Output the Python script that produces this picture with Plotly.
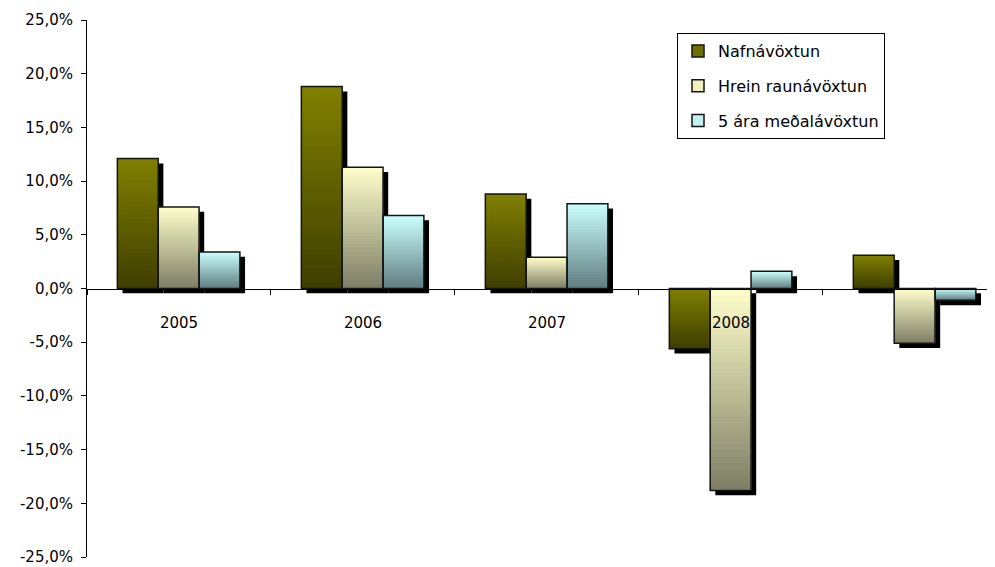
import plotly.graph_objects as go

# ---- data ----
categories = ["2005", "2006", "2007", "2008", "2009"]
tick_labels = ["2005", "2006", "2007", "2008", ""]
series_names = ["Nafnávöxtun", "Hrein raunávöxtun", "5 ára meðalávöxtun"]
nafn = [12.1, 18.8, 8.8, -5.6, 3.1]
hrein = [7.6, 11.3, 2.9, -18.8, -5.1]
medal = [3.4, 6.8, 7.9, 1.6, -1.1]
series_values = [nafn, hrein, medal]
y_tick_values = [25, 20, 15, 10, 5, 0, -5, -10, -15, -20, -25]
y_tick_labels = ["25,0%", "20,0%", "15,0%", "10,0%", "5,0%", "0,0%",
                 "-5,0%", "-10,0%", "-15,0%", "-20,0%", "-25,0%"]

# ---- styles ----
top_colors = [(128, 128, 0), (255, 255, 204), (204, 255, 255)]
bottom_colors = [(62, 62, 0), (125, 125, 100), (95, 125, 128)]
legend_colors = ["#707000", "#f0f0c0", "#c0f0f0"]
bar_w = 0.222
group_start = -0.335
shadow_dx = 0.028
shadow_dy = 0.45
N = 30


def mix(c1, c2, t):
    return "rgb(%d,%d,%d)" % tuple(round(a * t + b * (1 - t)) for a, b in zip(c1, c2))


fig = go.Figure()

# shadows
for i, vals in enumerate(series_values):
    fig.add_trace(go.Bar(
        x=categories, y=vals, base=[-shadow_dy] * len(vals),
        offset=group_start + i * bar_w + shadow_dx, width=bar_w,
        marker=dict(color="black", line=dict(width=0)),
        showlegend=False, hoverinfo="skip"))

# gradient fills (overlapping layers, so no seams)
for i, vals in enumerate(series_values):
    for k in range(N):
        colors, bases, heights = [], [], []
        for v in vals:
            if v >= 0:
                bases.append(0)
                heights.append(v * (N - k) / N)
                t = (N - k - 0.5) / N
            else:
                bases.append(v * k / N)
                heights.append(v - v * k / N)
                t = 1 - (k + 0.5) / N
            colors.append(mix(top_colors[i], bottom_colors[i], t))
        fig.add_trace(go.Bar(
            x=categories, y=heights, base=bases,
            offset=group_start + i * bar_w, width=bar_w,
            marker=dict(color=colors, line=dict(width=0)),
            showlegend=False, hoverinfo="skip"))

# outlines
for i, vals in enumerate(series_values):
    fig.add_trace(go.Bar(
        x=categories, y=vals,
        offset=group_start + i * bar_w, width=bar_w,
        marker=dict(color="rgba(0,0,0,0)", line=dict(width=1.5, color="#151515")),
        name=series_names[i], showlegend=False))

# legend entries
for i, name in enumerate(series_names):
    fig.add_trace(go.Bar(
        x=[categories[0]], y=[None], name=name, legendgroup=name,
        marker=dict(color=legend_colors[i], line=dict(width=1.5, color="#151515")),
        showlegend=True))

# page has an 8px body margin; plot area spans x 87..995, y 20..557 in the window
fig.update_layout(
    width=987, height=559,
    margin=dict(l=79, r=0, t=12, b=10),
    barmode="overlay",
    plot_bgcolor="white", paper_bgcolor="white",
    font=dict(family="DejaVu Sans", size=15, color="black"),
    legend=dict(
        x=(677 - 87) / 908, y=(557 - 33) / 537, xanchor="left", yanchor="top",
        bgcolor="white", bordercolor="black", borderwidth=1,
        font=dict(family="DejaVu Sans", size=16),
        traceorder="grouped", tracegroupgap=11,
        itemwidth=30),
)
fig.update_yaxes(
    range=[-25, 25], tickvals=y_tick_values, ticktext=y_tick_labels,
    showline=True, linecolor="black", linewidth=1,
    ticks="outside", ticklen=5, tickcolor="black", ticklabelstandoff=5,
    showgrid=False, zeroline=False, automargin=False,
)
fig.update_xaxes(
    type="category", range=[-0.5, 4.435],
    tickvals=categories, ticktext=tick_labels,
    anchor="free", position=0.5,
    showline=True, linecolor="black", linewidth=1,
    ticks="outside", ticklen=5, tickcolor="black", tickson="boundaries",
    ticklabelstandoff=20,
    showgrid=False, zeroline=False, automargin=False,
)

fig.write_html("out.html")
